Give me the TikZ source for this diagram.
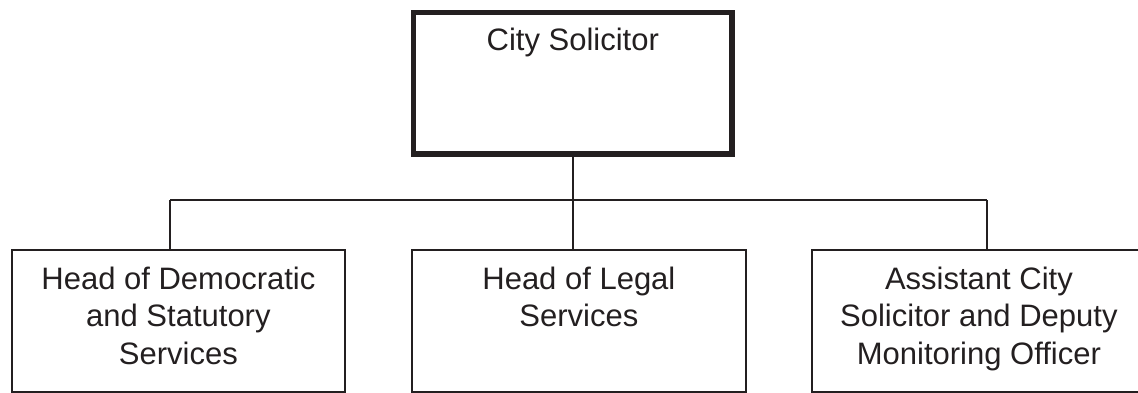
\documentclass[tikz,border=0pt]{standalone}
\usepackage{fontspec}
\setmainfont{Liberation Sans}
\definecolor{ink}{HTML}{231F20}
\begin{document}
\begin{tikzpicture}[x=1pt,y=-1pt,
  box/.style={draw=ink, line width=1.8pt, rectangle, inner sep=0pt,
    minimum height=142pt, anchor=north west},
  headbox/.style={draw=ink, line width=5.5pt, rectangle, inner sep=0pt,
    minimum width=318.5pt, minimum height=141.5pt, anchor=north west},
  lbl/.style={text=ink, align=center, inner sep=0pt, anchor=north,
    font=\fontsize{31}{37.5}\selectfont},
  link/.style={draw=ink, line width=1.8pt}
]
\useasboundingbox (0,0) rectangle (1138,393);
\begin{scope}
\clip (0,0) rectangle (1138,393);

% boxes
\node[headbox] (cs) at (410.75,9.75) {};
\node[box, minimum width=333pt] (hd) at (11,249) {};
\node[box, minimum width=334pt] (hl) at (411,249) {};
\node[box, minimum width=334pt] (ac) at (811,249) {};

% titles
\node[lbl] (cst) at ([yshift=-17.6pt]cs.north) {City Solicitor};
\node[lbl] (hdt) at ([yshift=-17.4pt]hd.north) {Head of Democratic\\and Statutory\\Services};
\node[lbl] (hlt) at ([yshift=-17.4pt]hl.north) {Head of Legal\\Services};
\node[lbl] (act) at ([yshift=-17.4pt]ac.north) {Assistant City\\Solicitor and Deputy\\Monitoring Officer};

% reporting lines
\coordinate (jl) at (170,200);
\coordinate (jr) at (987,200);
\draw[link] (jl) -- (jr);
\draw[link] (cs.south) -- (cs.south |- hl.north);
\draw[link] (jl) -- (jl |- hd.north);
\draw[link] (jr) -- (jr |- ac.north);
\end{scope}
\end{tikzpicture}
\end{document}
